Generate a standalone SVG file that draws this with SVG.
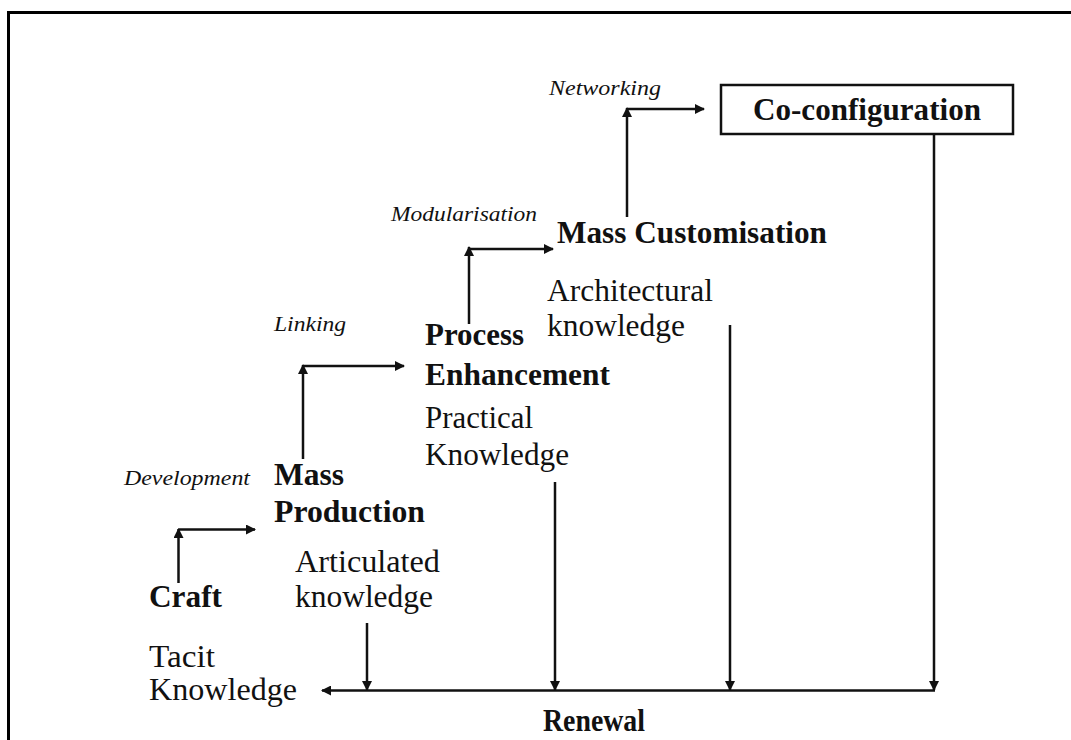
<svg xmlns="http://www.w3.org/2000/svg" width="1071" height="740" viewBox="0 0 1071 740">
<style>
.t{font-family:"Liberation Serif","Times New Roman",serif;fill:#111;font-size:31px}
.b{font-weight:bold}
.i{font-style:italic;font-size:21px}
.ln{fill:none;stroke:#111;stroke-width:2.5}
</style>
<defs>
<marker id="ah" viewBox="0 0 10 10" refX="9" refY="5" markerWidth="4" markerHeight="4" orient="auto" markerUnits="strokeWidth">
<path d="M0,0 L10,5 L0,10 z" fill="#111"/>
</marker>
</defs>
<rect width="1071" height="740" fill="#fff"/>
<rect x="8.5" y="12.5" width="1100" height="800" fill="none" stroke="#000" stroke-width="3"/>

<g id="craft">
<text class="t b" x="149" y="607" textLength="73" lengthAdjust="spacingAndGlyphs">Craft</text>
<text class="t" x="149" y="667" textLength="66" lengthAdjust="spacingAndGlyphs">Tacit</text>
<text class="t" x="149" y="700" textLength="148" lengthAdjust="spacingAndGlyphs">Knowledge</text>
</g>
<g id="mass-production">
<text class="t b" x="274" y="485" textLength="70" lengthAdjust="spacingAndGlyphs">Mass</text>
<text class="t b" x="274" y="522" textLength="151" lengthAdjust="spacingAndGlyphs">Production</text>
<text class="t" x="295" y="572" textLength="145" lengthAdjust="spacingAndGlyphs">Articulated</text>
<text class="t" x="295" y="607" textLength="138" lengthAdjust="spacingAndGlyphs">knowledge</text>
</g>
<g id="process-enhancement">
<text class="t b" x="425" y="345" textLength="99" lengthAdjust="spacingAndGlyphs">Process</text>
<text class="t b" x="425" y="385" textLength="185" lengthAdjust="spacingAndGlyphs">Enhancement</text>
<text class="t" x="425" y="428" textLength="108" lengthAdjust="spacingAndGlyphs">Practical</text>
<text class="t" x="425" y="465" textLength="144" lengthAdjust="spacingAndGlyphs">Knowledge</text>
</g>
<g id="mass-customisation">
<text class="t b" x="557" y="243" textLength="270" lengthAdjust="spacingAndGlyphs">Mass Customisation</text>
<text class="t" x="547" y="301" textLength="166" lengthAdjust="spacingAndGlyphs">Architectural</text>
<text class="t" x="547" y="336" textLength="138" lengthAdjust="spacingAndGlyphs">knowledge</text>
</g>
<g id="co-configuration">
<rect x="721" y="85" width="292" height="49" fill="#fff" stroke="#111" stroke-width="2.5"/>
<text class="t b" x="753" y="120" textLength="228" lengthAdjust="spacingAndGlyphs">Co-configuration</text>
</g>
<g id="renewal">
<text class="t b" x="543" y="731" textLength="102" lengthAdjust="spacingAndGlyphs">Renewal</text>
</g>
<g id="labels">
<text class="t i" x="124" y="485" textLength="126" lengthAdjust="spacingAndGlyphs">Development</text>
<text class="t i" x="274" y="331" textLength="72" lengthAdjust="spacingAndGlyphs">Linking</text>
<text class="t i" x="391" y="221" textLength="146" lengthAdjust="spacingAndGlyphs">Modularisation</text>
<text class="t i" x="549" y="95" textLength="112" lengthAdjust="spacingAndGlyphs">Networking</text>
</g>

<g id="connectors">
<path class="ln" d="M178.5,583 V529" marker-end="url(#ah)"/>
<path class="ln" d="M178.5,529.5 H255" marker-end="url(#ah)"/>
<path class="ln" d="M303,459 V365" marker-end="url(#ah)"/>
<path class="ln" d="M303,366 H404" marker-end="url(#ah)"/>
<path class="ln" d="M469,324 V247" marker-end="url(#ah)"/>
<path class="ln" d="M469,249 H553" marker-end="url(#ah)"/>
<path class="ln" d="M627,217 V108" marker-end="url(#ah)"/>
<path class="ln" d="M627,109 H704" marker-end="url(#ah)"/>
<path class="ln" d="M367,623 V690" marker-end="url(#ah)"/>
<path class="ln" d="M555,482 V690" marker-end="url(#ah)"/>
<path class="ln" d="M730,325 V690" marker-end="url(#ah)"/>
<path class="ln" d="M934,134 V690" marker-end="url(#ah)"/>
<path class="ln" d="M935,690.5 H322" marker-end="url(#ah)"/>
</g>
</svg>
